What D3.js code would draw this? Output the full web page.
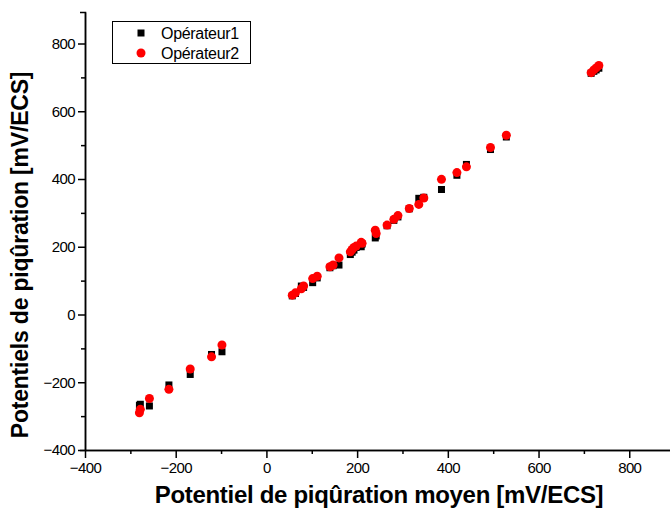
<!DOCTYPE html>
<html>
<head>
<meta charset="utf-8">
<script src="https://cdn.jsdelivr.net/npm/d3@7"></script>
<style>
  body { margin: 0; background: #fff; }
  svg { display: block; font-family: "Liberation Sans", Arial, sans-serif; }
</style>
</head>
<body>
<div id="chart"></div>
<script>
(function () {

    // mean pitting potential (x) and each operator's reading (y), mV/ECS
    var meanPotential = [-280, -278, -258, -215, -168, -121, -98,
        57, 64, 77, 82, 102, 112, 140, 147, 160, 185, 189, 193, 198, 209, 211,
        240, 242, 266, 281, 290, 315, 336, 347, 386, 420, 441, 494, 529,
        716, 722, 727, 733];
    var operateur1 = [-268, -265, -270, -208, -177, -118, -110,
        55, 62, 84, 80, 94, 108, 138, 144, 146, 177, 184, 190, 198, 200, 208,
        226, 232, 262, 278, 288, 312, 343, 346, 369, 411, 443, 487, 524,
        712, 718, 722, 727];
    var operateur2 = [-290, -280, -248, -221, -161, -125, -90,
        57, 64, 76, 84, 106, 113, 141, 146, 167, 185, 192, 198, 202, 213, 210,
        249, 239, 264, 281, 292, 313, 325, 344, 399, 419, 436, 493, 529,
        714, 722, 728, 735];

    var majorTicks = [-400, -200, 0, 200, 400, 600, 800];
    var minorTicks = [-300, -100, 100, 300, 500, 700];
    var seriesNames = ['Opérateur1', 'Opérateur2'];

    var w = 670;
    var h = 514;

    var svg = d3.select('#chart')
        .append('svg')
            .attr('width', w)
            .attr('height', h);

    // x axis runs to 900, a few pixels past the right edge of the picture
    var x = d3.scaleLinear().domain([-400, 900]).range([85, 674.6]);
    var y = d3.scaleLinear().domain([-400, 893]).range([450, 12]);

    // minor ticks first, then major axes on top
    svg.append('g')
        .attr('transform', 'translate(0,450)')
        .call(d3.axisBottom(x).tickValues(minorTicks).tickSize(4).tickFormat('').tickSizeOuter(0));
    svg.append('g')
        .attr('transform', 'translate(85,0)')
        .call(d3.axisLeft(y).tickValues(minorTicks).tickSize(4).tickFormat('').tickSizeOuter(0));

    svg.append('g')
        .attr('transform', 'translate(0,450)')
        .call(d3.axisBottom(x).tickValues(majorTicks).tickSize(8).tickSizeOuter(0).tickPadding(4));
    svg.append('g')
        .attr('transform', 'translate(85,0)')
        .call(d3.axisLeft(y).tickValues(majorTicks).tickSize(7).tickSizeOuter(5).tickPadding(3));

    svg.selectAll('.domain, .tick line')
        .attr('stroke', '#000')
        .attr('stroke-width', 1.5);
    svg.selectAll('.tick text')
        .attr('fill', '#000')
        .style('font-size', '15px')
        .style('letter-spacing', '-0.6px');

    // axis titles
    svg.append('text')
        .text('Potentiel de piqûration moyen [mV/ECS]')
        .attr('x', 379)
        .attr('y', 503)
        .attr('text-anchor', 'middle')
        .style('font-size', '24px')
        .style('font-weight', 'bold')
        .style('letter-spacing', '-0.3px');
    svg.append('text')
        .text('Potentiels de piqûration [mV/ECS]')
        .attr('transform', 'translate(28,255) rotate(-90)')
        .attr('text-anchor', 'middle')
        .style('font-size', '23px')
        .style('font-weight', 'bold')
        .style('letter-spacing', '-0.2px');

    // Opérateur1: black squares
    var s = 7;
    svg.append('g').selectAll('rect')
        .data(meanPotential)
        .enter()
        .append('rect')
            .attr('x', function (d) { return x(d) - s / 2; })
            .attr('y', function (d, i) { return y(operateur1[i]) - s / 2; })
            .attr('width', s)
            .attr('height', s)
            .attr('fill', '#000');

    // Opérateur2: red circles
    svg.append('g').selectAll('circle')
        .data(meanPotential)
        .enter()
        .append('circle')
            .attr('cx', function (d) { return x(d); })
            .attr('cy', function (d, i) { return y(operateur2[i]); })
            .attr('r', 4.5)
            .attr('fill', '#ff0000');

    // legend
    var legend = svg.append('g');
    legend.append('rect')
        .attr('x', 112.5)
        .attr('y', 21.5)
        .attr('width', 138)
        .attr('height', 42)
        .attr('fill', '#fff')
        .attr('stroke', '#000')
        .attr('stroke-width', 1);
    legend.append('rect')
        .attr('x', 141 - s / 2)
        .attr('y', 33 - s / 2)
        .attr('width', s)
        .attr('height', s)
        .attr('fill', '#000');
    legend.append('circle')
        .attr('cx', 141)
        .attr('cy', 53)
        .attr('r', 4.5)
        .attr('fill', '#ff0000');
    legend.selectAll('text')
        .data(seriesNames)
        .enter()
        .append('text')
        .text(function (d) { return d; })
        .attr('x', 161)
        .attr('y', function (d, i) { return 38.5 + i * 20; })
        .style('font-size', '16px')
        .style('letter-spacing', '-0.3px');

})();
</script>
</body>
</html>
